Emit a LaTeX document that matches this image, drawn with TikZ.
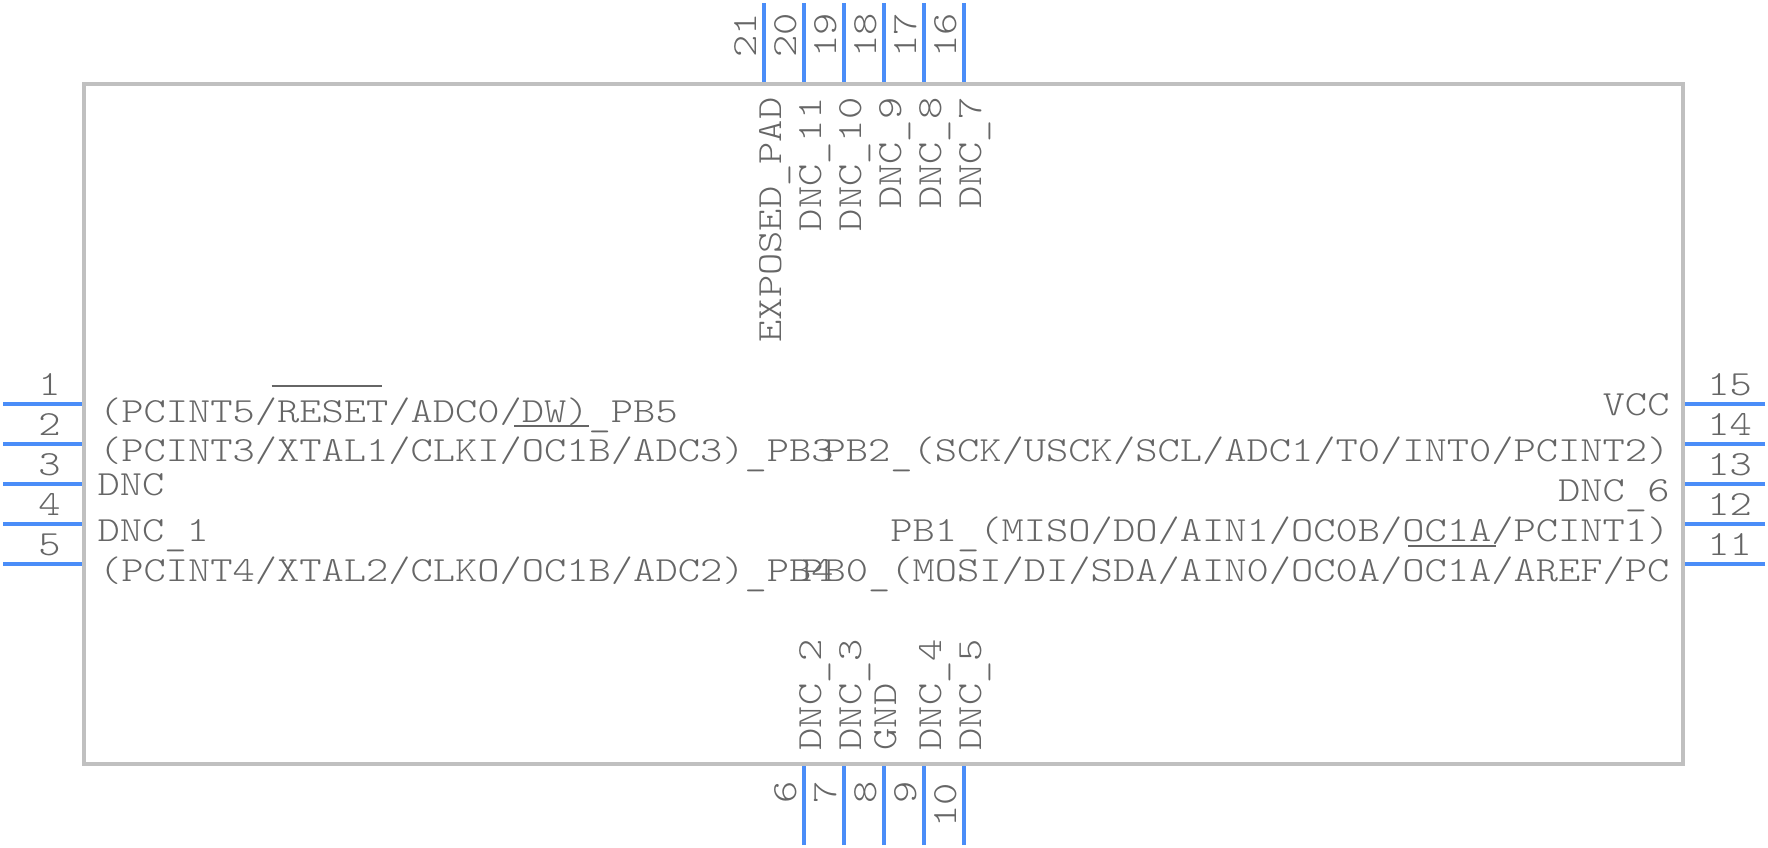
\documentclass[tikz,border=0pt]{standalone}
\usepackage{fontspec}
\setmonofont[FakeStretch=1.2]{Latin Modern Mono Light}
\definecolor{pinblue}{RGB}{74,141,248}
\definecolor{bodygrey}{RGB}{192,192,192}
\definecolor{textgrey}{RGB}{102,102,102}
\newcommand{\pinbar}{\raisebox{-0.1em}{\_}}
\tikzset{every picture/.style={line width=0.75pt}}
\tikzset{
	chipbody/.style={draw=bodygrey,line width=3pt,inner sep=0pt,outer sep=0pt,minimum width=1199.6pt,minimum height=510pt},
	pinline/.style={draw=pinblue,line width=3pt,shorten >=1.5pt},
	markline/.style={draw=textgrey,line width=1.5pt},
	pintext/.style={text=textgrey,inner sep=0pt,font=\ttfamily\fontsize{26.5}{30}\selectfont},
	pinnum/.style={pintext,anchor=base},
	vertnum/.style={pintext,anchor=base west,rotate=90},
	leftlab/.style={pintext,anchor=base west},
	rightlab/.style={pintext,anchor=base east},
	toplab/.style={pintext,anchor=base east,rotate=90},
	botlab/.style={pintext,anchor=base west,rotate=90}
}
\begin{document}
\begin{tikzpicture}[x=0.75pt,y=0.75pt,yscale=-1,xscale=1]
	\useasboundingbox (0,0) rectangle (1768,848);

	%Shape: Rectangle
	\node [chipbody] (body) at (883.25,424) {};

	%left pins
	\coordinate (pin1) at (3.4,403.7);
	\coordinate (pin2) at (3.4,444);
	\coordinate (pin3) at (3.4,484);
	\coordinate (pin4) at (3.4,524);
	\coordinate (pin5) at (3.4,564);
	\draw [pinline] (pin1) -- (pin1 -| body.west);
	\draw [pinline] (pin2) -- (pin2 -| body.west);
	\draw [pinline] (pin3) -- (pin3 -| body.west);
	\draw [pinline] (pin4) -- (pin4 -| body.west);
	\draw [pinline] (pin5) -- (pin5 -| body.west);
	%bottom pins
	\coordinate (pin6) at (804,845);
	\coordinate (pin7) at (844,845);
	\coordinate (pin8) at (884,845);
	\coordinate (pin9) at (924,845);
	\coordinate (pin10) at (964,845);
	\draw [pinline] (pin6) -- (pin6 |- body.south);
	\draw [pinline] (pin7) -- (pin7 |- body.south);
	\draw [pinline] (pin8) -- (pin8 |- body.south);
	\draw [pinline] (pin9) -- (pin9 |- body.south);
	\draw [pinline] (pin10) -- (pin10 |- body.south);
	%right pins
	\coordinate (pin11) at (1765,564);
	\coordinate (pin12) at (1765,524);
	\coordinate (pin13) at (1765,484);
	\coordinate (pin14) at (1765,444);
	\coordinate (pin15) at (1765,403.7);
	\draw [pinline] (pin11) -- (pin11 -| body.east);
	\draw [pinline] (pin12) -- (pin12 -| body.east);
	\draw [pinline] (pin13) -- (pin13 -| body.east);
	\draw [pinline] (pin14) -- (pin14 -| body.east);
	\draw [pinline] (pin15) -- (pin15 -| body.east);
	%top pins
	\coordinate (pin16) at (964,3.4);
	\coordinate (pin17) at (924,3.4);
	\coordinate (pin18) at (884,3.4);
	\coordinate (pin19) at (844,3.4);
	\coordinate (pin20) at (804,3.4);
	\coordinate (pin21) at (764,3.4);
	\draw [pinline] (pin16) -- (pin16 |- body.north);
	\draw [pinline] (pin17) -- (pin17 |- body.north);
	\draw [pinline] (pin18) -- (pin18 |- body.north);
	\draw [pinline] (pin19) -- (pin19 |- body.north);
	\draw [pinline] (pin20) -- (pin20 |- body.north);
	\draw [pinline] (pin21) -- (pin21 |- body.north);

	%pin numbers
	\node [pinnum] (num1) at (49.6,396) {1};
	\node [pinnum] (num2) at (49.6,436) {2};
	\node [pinnum] (num3) at (49.6,476) {3};
	\node [pinnum] (num4) at (49.6,516) {4};
	\node [pinnum] (num5) at (49.6,556) {5};
	\node [vertnum] (num6) at (796,804) {6};
	\node [vertnum] (num7) at (836,804) {7};
	\node [vertnum] (num8) at (876,804) {8};
	\node [vertnum] (num9) at (916,804) {9};
	\node [vertnum] (num10) at (956,828) {10};
	\node [pinnum] (num11) at (1729.5,556) {11};
	\node [pinnum] (num12) at (1729.5,516) {12};
	\node [pinnum] (num13) at (1729.5,476) {13};
	\node [pinnum] (num14) at (1729.5,436) {14};
	\node [pinnum] (num15) at (1729.5,396) {15};
	\node [vertnum] (num16) at (956,58) {16};
	\node [vertnum] (num17) at (916,58) {17};
	\node [vertnum] (num18) at (876,58) {18};
	\node [vertnum] (num19) at (836,58) {19};
	\node [vertnum] (num20) at (796,58) {20};
	\node [vertnum] (num21) at (756,58) {21};

	%left labels
	\node [leftlab] (lab1) at (98.5,422.5) {(PCINT5/RESET/ADC0/DW)\pinbar PB5};
	\node [leftlab] (lab2) at (98.5,461.7) {(PCINT3/XTAL1/CLKI/OC1B/ADC3)\pinbar PB3};
	\node [leftlab] (lab3) at (97,496) {DNC};
	\node [leftlab] (lab4) at (97,541.5) {DNC\pinbar 1};
	\node [leftlab] (lab5) at (98.5,581.7) {(PCINT4/XTAL2/CLKO/OC1B/ADC2)\pinbar PB4};
	%bottom labels
	\node [botlab] (lab6) at (821,751) {DNC\pinbar 2};
	\node [botlab] (lab7) at (861,751) {DNC\pinbar 3};
	\node [botlab] (lab8) at (896,751) {GND};
	\node [botlab] (lab9) at (941,751) {DNC\pinbar 4};
	\node [botlab] (lab10) at (981,751) {DNC\pinbar 5};
	%right labels
	\node [rightlab] (lab11) at (1670,581.7) {PB0\pinbar (MOSI/DI/SDA/AIN0/OC0A/OC1A/AREF/PC};
	\node [rightlab] (lab12) at (1670,541.7) {PB1\pinbar (MISO/DO/AIN1/OC0B/OC1A/PCINT1)};
	\node [rightlab] (lab13) at (1670,502) {DNC\pinbar 6};
	\node [rightlab] (lab14) at (1670,461.7) {PB2\pinbar (SCK/USCK/SCL/ADC1/T0/INT0/PCINT2)};
	\node [rightlab] (lab15) at (1670,416) {VCC};
	%top labels
	\node [toplab] (lab16) at (981,97) {DNC\pinbar 7};
	\node [toplab] (lab17) at (941,97) {DNC\pinbar 8};
	\node [toplab] (lab18) at (901,97) {DNC\pinbar 9};
	\node [toplab] (lab19) at (861,97) {DNC\pinbar 10};
	\node [toplab] (lab20) at (821,97) {DNC\pinbar 11};
	\node [toplab] (lab21) at (781,97) {EXPOSED\pinbar PAD};

	%over and under bars
	\coordinate (resetA) at (271.7,386);
	\coordinate (resetB) at (382,386);
	\coordinate (dwA) at (514,426);
	\coordinate (dwB) at (589,426);
	\coordinate (ocA) at (1408,545.7);
	\coordinate (ocB) at (1495.6,545.7);
	\draw [markline] (resetA) -- (resetB);
	\draw [markline] (dwA) -- (dwB);
	\draw [markline] (ocA) -- (ocB);
\end{tikzpicture}
\end{document}
